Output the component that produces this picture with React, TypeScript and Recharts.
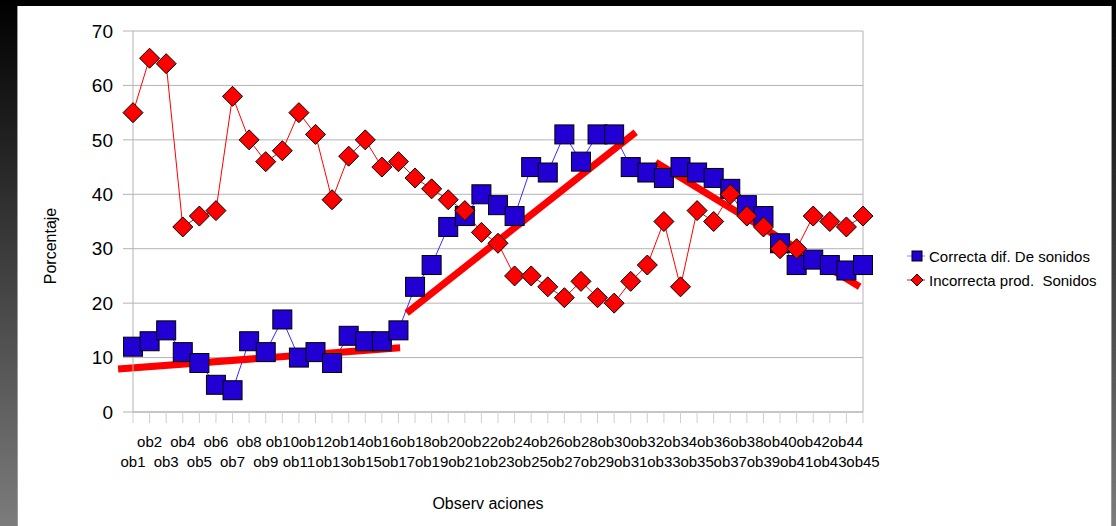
import { LineChart, Line, XAxis, YAxis, CartesianGrid, ReferenceLine } from 'recharts';

const observaciones = [
  'ob1', 'ob2', 'ob3', 'ob4', 'ob5', 'ob6', 'ob7', 'ob8', 'ob9', 'ob10',
  'ob11', 'ob12', 'ob13', 'ob14', 'ob15', 'ob16', 'ob17', 'ob18', 'ob19', 'ob20',
  'ob21', 'ob22', 'ob23', 'ob24', 'ob25', 'ob26', 'ob27', 'ob28', 'ob29', 'ob30',
  'ob31', 'ob32', 'ob33', 'ob34', 'ob35', 'ob36', 'ob37', 'ob38', 'ob39', 'ob40',
  'ob41', 'ob42', 'ob43', 'ob44', 'ob45',
];

const correcta = [
  12, 13, 15, 11, 9, 5, 4, 13, 11, 17,
  10, 11, 9, 14, 13, 13, 15, 23, 27, 34,
  36, 40, 38, 36, 45, 44, 51, 46, 51, 51,
  45, 44, 43, 45, 44, 43, 41, 38, 36, 31,
  27, 28, 27, 26, 27,
];

const incorrecta = [
  55, 65, 64, 34, 36, 37, 58, 50, 46, 48,
  55, 51, 39, 47, 50, 45, 46, 43, 41, 39,
  37, 33, 31, 25, 25, 23, 21, 24, 21, 20,
  24, 27, 35, 23, 37, 35, 40, 36, 34, 30,
  30, 36, 35, 34, 36,
];

const yTicks = [0, 10, 20, 30, 40, 50, 60, 70];

// hand-drawn trend strokes: x = observation number, y = percent
const tendencias = [
  [{ x: 0.1, y: 7.9 }, { x: 17.1, y: 11.8 }],
  [{ x: 17.5, y: 18.2 }, { x: 31.3, y: 51.4 }],
  [{ x: 32.5, y: 45.9 }, { x: 44.8, y: 23.0 }],
];

const serieCorrecta = 'Correcta dif. De sonidos';
const serieIncorrecta = 'Incorrecta prod.  Sonidos';

const data = observaciones.map((label, i) => ({
  n: i + 1,
  label,
  correcta: correcta[i],
  incorrecta: incorrecta[i],
}));

const FONT = '"Liberation Sans", Arial, sans-serif';
const GRID = '#b3b3b3';
const BLUE = '#2200d4';
const RED = '#ff0000';

const Square = (props: any) => {
  const { cx, cy, index } = props;
  if (cx == null || cy == null) return <g key={`sq-${index}`} />;
  return (
    <rect key={`sq-${index}`} x={cx - 9.5} y={cy - 9.5} width={19} height={19}
      fill={BLUE} stroke="#000" strokeWidth={1} />
  );
};

const Diamond = (props: any) => {
  const { cx, cy, index } = props;
  if (cx == null || cy == null) return <g key={`dm-${index}`} />;
  const r = 10;
  return (
    <path key={`dm-${index}`}
      d={`M${cx},${cy - r}L${cx + r},${cy}L${cx},${cy + r}L${cx - r},${cy}Z`}
      fill={RED} stroke="#000" strokeWidth={1} />
  );
};

// labels alternate between two rows: odd observations low, even ones high
const ObTick = (props: any) => {
  const { x, y, payload } = props;
  const n = payload.value as number;
  const low = n % 2 === 1;
  return (
    <text x={x} y={y + (low ? 42 : 22)} textAnchor="middle" fontSize={15}
      fontFamily={FONT} fill="#000">
      {observaciones[n - 1]}
    </text>
  );
};

const Leyenda = () => (
  <svg width={200} height={50} style={{ position: 'absolute', left: 900, top: 240 }}>
    <line x1={7} y1={16} x2={25} y2={16} stroke="#8f86ff" strokeWidth={1} />
    <rect x={12} y={11} width={10} height={10} fill={BLUE} stroke="#000" strokeWidth={1} />
    <text x={29} y={22} fontSize={15} fontFamily={FONT} fill="#000">{serieCorrecta}</text>
    <line x1={7} y1={40} x2={25} y2={40} stroke={RED} strokeWidth={1} />
    <path d="M17,34L23,40L17,46L11,40Z" fill={RED} stroke="#000" strokeWidth={1} />
    <text x={29} y={46} fontSize={15} fontFamily={FONT} fill="#000" style={{ whiteSpace: 'pre' }}>
      {serieIncorrecta}
    </text>
  </svg>
);

export default function App() {
  return (
    <div style={{
      position: 'absolute', left: 0, top: 0, width: 1116, height: 526, overflow: 'hidden',
      background: 'linear-gradient(to bottom, #000 0%, #0a0a0a 8%, #7c7c7c 100%)',
    }}>
      <div style={{
        position: 'absolute', left: 17, top: 6, width: 1095, height: 520,
        background: '#fff', borderLeft: '1px solid #9a9a9a', borderRight: '1px solid #9a9a9a',
        boxSizing: 'border-box',
      }} />
      <div style={{ position: 'absolute', left: 0, top: 0 }}>
        <LineChart width={1116} height={526} data={data}
          margin={{ top: 31, right: 253, bottom: 54, left: 73 }}>
          <CartesianGrid vertical={false} stroke={GRID} />
          <XAxis dataKey="n" type="number" domain={[1, 45]} ticks={data.map((d) => d.n)}
            interval={0} tickSize={11} tickMargin={2} height={60}
            axisLine={{ stroke: GRID }} tickLine={{ stroke: '#cfcfcf' }}
            tick={<ObTick />}
            label={{
              content: () => (
                <text x={488} y={509} textAnchor="middle" fontSize={16} fontFamily={FONT}
                  fill="#000" style={{ whiteSpace: 'pre' }}>Observ aciones</text>
              ),
            }} />
          <YAxis domain={[0, 70]} ticks={yTicks} interval={0} width={60} tickSize={10}
            tickMargin={10} axisLine={{ stroke: GRID }} tickLine={{ stroke: GRID }}
            tick={{ fontSize: 19, fontFamily: FONT, fill: '#000' }}
            label={{
              content: () => (
                <text x={56} y={246} textAnchor="middle" fontSize={16} fontFamily={FONT}
                  fill="#000" transform="rotate(-90 56 246)">Porcentaje</text>
              ),
            }} />
          <ReferenceLine x={45} stroke={GRID} strokeWidth={1} />
          {/* squares sit under the trend strokes, diamonds on top of them */}
          <Line dataKey="correcta" name={serieCorrecta} stroke="#3a2aff" strokeWidth={1}
            dot={<Square />} activeDot={false} isAnimationActive={false} zIndex={400} />
          {tendencias.map((seg, i) => (
            <ReferenceLine key={i} segment={seg} stroke={RED} strokeWidth={7}
              ifOverflow="visible" zIndex={450} />
          ))}
          <Line dataKey="incorrecta" name={serieIncorrecta} stroke={RED} strokeWidth={1}
            dot={<Diamond />} activeDot={false} isAnimationActive={false} zIndex={500} />
        </LineChart>
      </div>
      <Leyenda />
    </div>
  );
}
